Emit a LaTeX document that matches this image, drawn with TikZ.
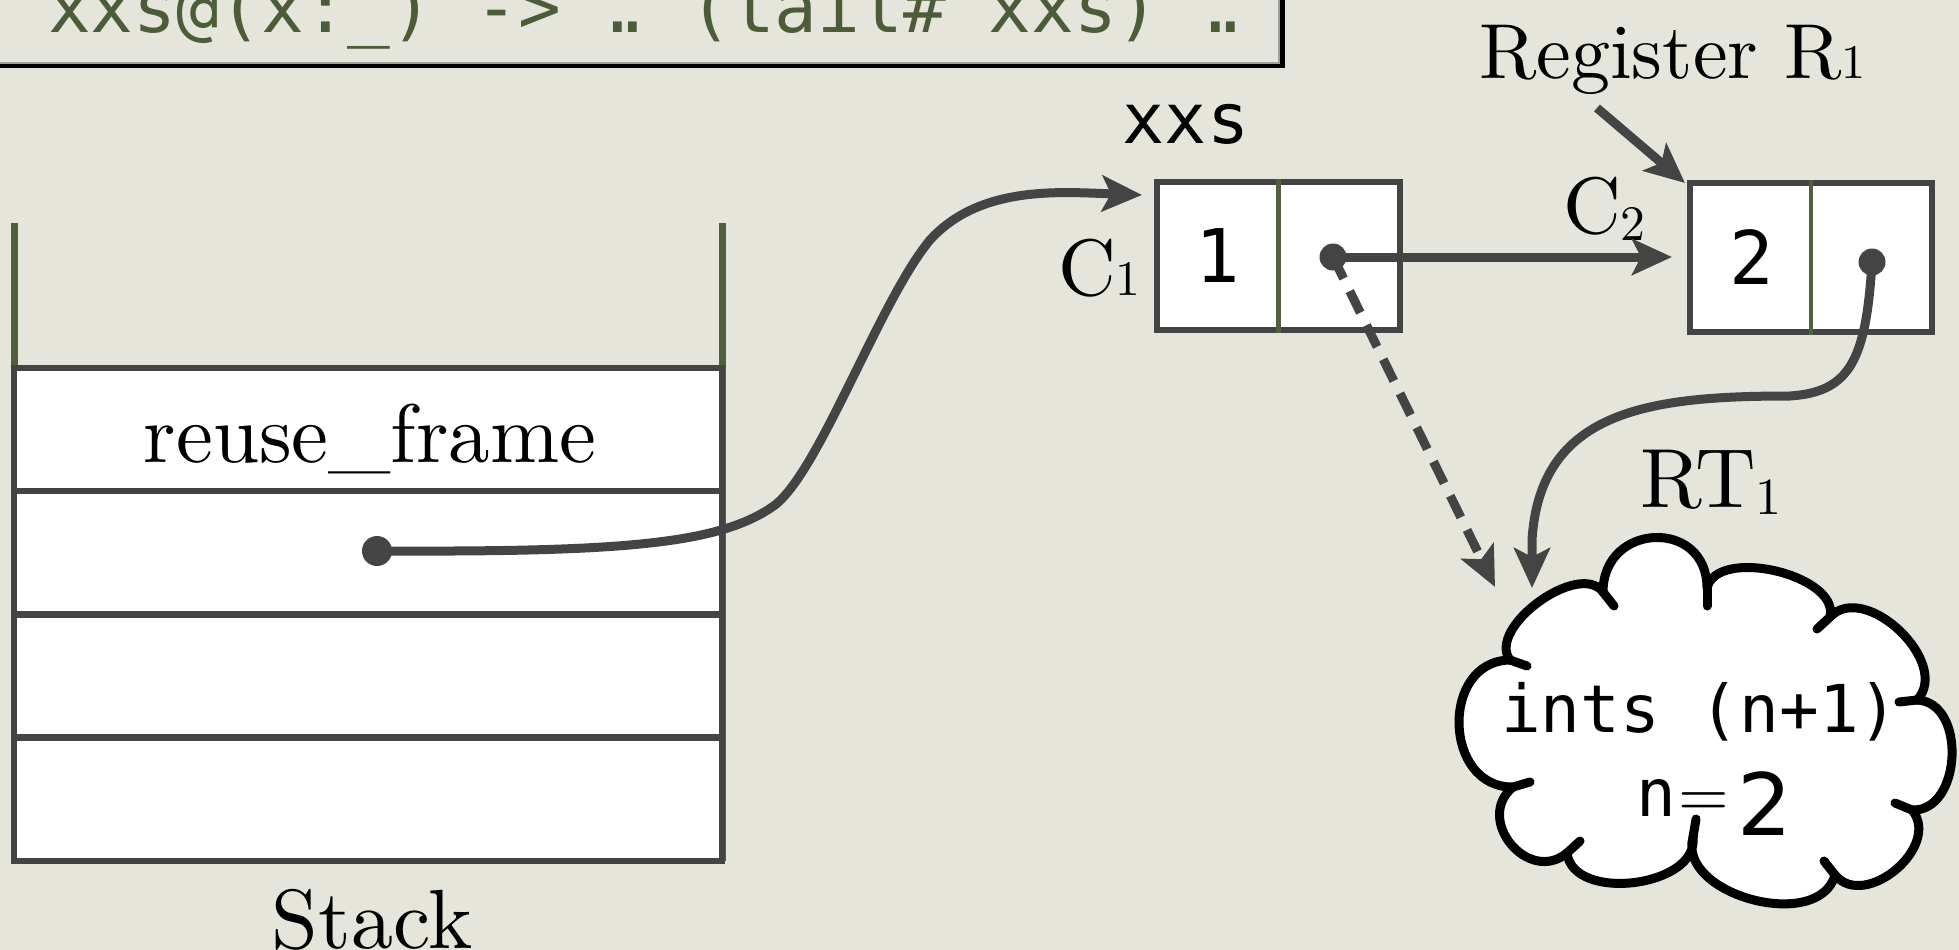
\documentclass[tikz,border=0pt]{standalone}
\usepackage{fontspec}
\usepackage{graphicx}
\usetikzlibrary{arrows.meta}
\setmainfont{lmroman10-regular.otf}
\newfontfamily\monof{DejaVu Sans Mono}
\newfontfamily\sansf{DejaVu Sans}
\definecolor{bgpaper}{RGB}{229,229,220}
\definecolor{codegreen}{RGB}{76,92,56}
\definecolor{linegreen}{RGB}{80,96,62}
\definecolor{ink}{RGB}{68,68,68}
\newcommand\setfs[1]{\fontsize{#1pt}{#1pt}\selectfont}
\newcommand\osdig[1]{\scalebox{0.62}{#1}}
\newcommand\lowdig[1]{\raisebox{-0.09em}{\scalebox{0.62}{#1}}}
\newcommand\twodots{\makebox[0.602em][c]{.\hspace{-0.39em}.}}
\begin{document}
\begin{tikzpicture}[x=1pt,y=-1pt,
  conn/.style={draw=ink, line width=9pt, -{Stealth[length=40pt,width=36pt,inset=9pt]}},
  dashconn/.style={conn, dash pattern=on 24pt off 14pt},
  pdot/.style={circle, fill=ink, inner sep=0pt, minimum size=27pt},
  rowbox/.style={rectangle, draw=ink, fill=white, line width=6.5pt, minimum width=708pt, minimum height=123pt, inner sep=0pt},
  wallline/.style={draw=linegreen, line width=7pt},
  cellbox/.style={rectangle, draw=ink, fill=white, line width=6.5pt, inner sep=0pt, minimum width=243pt, minimum height=148pt},
  divline/.style={draw=linegreen, line width=4.5pt},
  lbl/.style={inner sep=0pt, text=black},
  monolbl/.style={inner sep=0pt, text=black, font={\monof\setfs{70}}},
  digit/.style={inner sep=0pt, text=black, font={\monof\setfs{74}}},
  cloudline/.style={draw=black, line width=9pt, line join=round, line cap=round}
]
\useasboundingbox (0,0) rectangle (1959,950);
\fill[bgpaper] (0,0) rectangle (1959,950);

% code box with shadow
\fill[black] (-20,-20) rectangle (1285,68);
\path[fill=bgpaper, draw=gray!70!bgpaper, line width=2pt] (-20,-20) rectangle (1279,63);
\node[inner sep=0pt, anchor=base west, text=codegreen, font={\monof\setfs{71}}] (code) at (48,33)
  {xxs@(x:\_) -> \twodots{} (tail\# xxs) \twodots};

% stack
\draw[wallline] (14,223) -- (14,861);
\draw[wallline] (722,223) -- (722,861);
\node[rowbox] (r1) at (368,429.5) {};
\node[rowbox] (r2) at (368,552.5) {};
\node[rowbox] (r3) at (368,676) {};
\node[rowbox] (r4) at (368,799.5) {};
\node[lbl, anchor=base, font=\setfs{83}] (rf) at (370,462) {reuse\_frame};
\node[lbl, anchor=base, font=\setfs{84}] (stacklbl) at (372,948) {Stack};

% cells
\node[cellbox] (c1) at (1278.5,256) {};
\draw[divline] (c1.north) -- (c1.south);
\node[cellbox, minimum width=242pt, minimum height=149pt] (c2) at (1811,257.5) {};
\draw[divline] (c2.north) -- (c2.south);
\node[digit] (v1) at (1218,256) {1};
\node[digit] (v2) at (1752,257) {2};

% labels
\node[monolbl, anchor=base] (xxslbl) at (1186,143) {xxs};
\node[lbl, anchor=base west, font=\setfs{80}] (c1lbl) at (1058,295) {C\osdig{1}};
\node[lbl, anchor=base west, font=\setfs{80}] (c2lbl) at (1563,233) {C\lowdig{2}};
\node[lbl, anchor=base west, font=\setfs{78}] (reglbl) at (1479,78) {Register R\osdig{1}};
\node[lbl, anchor=base west, font=\setfs{84}] (rtlbl) at (1640,507) {RT\lowdig{1}};

% cloud
\path[fill=white] (1510,660) .. controls (1486,628) and (1579,560) .. (1603,592)
  .. controls (1603,522) and (1707,518) .. (1707,588)
  .. controls (1717,546) and (1840,575) .. (1830,617)
  .. controls (1865,580) and (1952,663) .. (1917,700)
  .. controls (1967,702) and (1962,812) .. (1912,810)
  .. controls (1942,846) and (1865,911) .. (1835,875)
  .. controls (1819,933) and (1677,895) .. (1693,837)
  .. controls (1699,887) and (1573,903) .. (1567,853)
  .. controls (1528,885) and (1474,819) .. (1513,787)
  .. controls (1443,788) and (1440,661) .. (1510,660) -- cycle;
\draw[cloudline] (1510,660) .. controls (1486,628) and (1579,560) .. (1603,592)
  .. controls (1603,522) and (1707,518) .. (1707,588)
  .. controls (1717,546) and (1840,575) .. (1830,617)
  .. controls (1865,580) and (1952,663) .. (1917,700)
  .. controls (1967,702) and (1962,812) .. (1912,810)
  .. controls (1942,846) and (1865,911) .. (1835,875)
  .. controls (1819,933) and (1677,895) .. (1693,837)
  .. controls (1699,887) and (1573,903) .. (1567,853)
  .. controls (1528,885) and (1474,819) .. (1513,787)
  .. controls (1443,788) and (1440,661) .. (1510,660) -- cycle;
\draw[cloudline] (1603,592) -- (1614,606);
\draw[cloudline] (1707,588) -- (1707,606);
\draw[cloudline] (1830,617) -- (1817,629);
\draw[cloudline] (1917,700) -- (1899,702);
\draw[cloudline] (1912,810) -- (1895,803);
\draw[cloudline] (1835,875) -- (1824,861);
\draw[cloudline] (1693,837) -- (1696,819);
\draw[cloudline] (1567,853) -- (1580,841);
\draw[cloudline] (1513,787) -- (1530,782);
\draw[cloudline] (1510,660) -- (1527,666);
\node[inner sep=0pt, anchor=base west, font={\monof\setfs{66}}] (ints) at (1501,732) {ints (n+1)};
\node[inner sep=0pt, anchor=base west] (nval) at (1636,816)
  {{\monof\setfs{66}n}\kern3pt{\setfs{65}=}\kern8pt{\sansf\setfs{86}\raisebox{-19pt}{2}}};

% dots
\node[pdot, minimum size=30pt] (sd) at (377,551) {};
\node[pdot] (d1) at (1333,257) {};
\node[pdot] (d2) at (1872,262) {};

% connector ends
\coordinate (c1in) at (1142,195);
\coordinate (c2in) at (1672,257);
\coordinate (rtin1) at (1495,587);
\coordinate (rtin2) at (1532,588);
\coordinate (regfrom) at (1597,108);
\coordinate (c2corner) at (1685,183);

% connectors
\draw[conn] (sd.center) .. controls (620,552) and (720,545) .. (775,505)
  .. controls (820,470) and (880,300) .. (930,240)
  .. controls (980,185) and (1060,192) .. (c1in);
\draw[conn] (d1.center) -- (c2in);
\draw[dashconn] (d1.center) -- (rtin1);
\draw[conn] (d2.center) .. controls (1866,360) and (1850,392) .. (1790,396)
  .. controls (1650,396) and (1540,410) .. (1532,540) -- (rtin2);
\draw[conn] (regfrom) -- (c2corner);
\end{tikzpicture}
\end{document}
